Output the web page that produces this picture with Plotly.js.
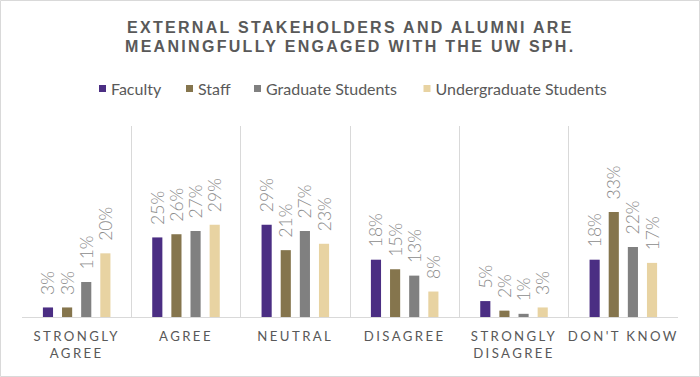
<!DOCTYPE html>
<html>
<head>
<meta charset="utf-8">
<script src="https://cdn.plot.ly/plotly-3.0.1.min.js"></script>
<style>
html,body{margin:0;padding:0;background:#fff;}
#chart{width:700px;height:377px;}
.xtick text{letter-spacing:2.4px;}
.annotation-text{letter-spacing:2.3px;}
</style>
</head>
<body>
<div id="chart"></div>
<script>
const categories = ["STRONGLY<br>AGREE", "AGREE", "NEUTRAL", "DISAGREE", "STRONGLY<br>DISAGREE", "DON'T KNOW"];
const seriesNames = ["Faculty", "Staff", "Graduate Students", "Undergraduate Students"];
const faculty = [0.03, 0.25, 0.29, 0.18, 0.05, 0.18];
const staff = [0.03, 0.26, 0.21, 0.15, 0.02, 0.33];
const graduate = [0.11, 0.27, 0.27, 0.13, 0.01, 0.22];
const undergraduate = [0.20, 0.29, 0.23, 0.08, 0.03, 0.17];
const colors = ["#4B2E83", "#85754D", "#808080", "#E8D3A2"];
const titleLines = ["EXTERNAL STAKEHOLDERS AND ALUMNI ARE", "MEANINGFULLY ENGAGED WITH THE UW SPH."];

const W = 700, H = 377;
const M = {l: 22, r: 22, t: 126, b: 60};
const plotH = H - M.t - M.b;
const legendNames = ['legend', 'legend2', 'legend3', 'legend4'];
const legendLeft = [82.5, 169.5, 237.5, 407];

const values = [faculty, staff, graduate, undergraduate];
const traces = values.map((v, i) => ({
  type: 'bar',
  name: seriesNames[i],
  legend: legendNames[i],
  x: categories,
  y: v,
  marker: {color: colors[i], line: {width: 0}},
  text: v.map(d => '\u00A0\u00A0' + Math.round(d * 100) + '%'),
  textposition: 'outside',
  textangle: -90,
  constraintext: 'none',
  cliponaxis: false,
  textfont: {family: 'Lato, sans-serif', size: 17.5, color: '#8c8c8c', weight: 300},
  hoverinfo: 'skip'
}));

const layout = {
  width: W, height: H,
  margin: M,
  paper_bgcolor: '#ffffff',
  plot_bgcolor: '#ffffff',
  barmode: 'group',
  bargap: 0.3,
  bargroupgap: 0.47,
  showlegend: true,
  xaxis: {
    type: 'category',
    tickson: 'boundaries',
    showgrid: true, gridcolor: '#d9d9d9', gridwidth: 1,
    showline: true, linecolor: '#d9d9d9', linewidth: 1,
    ticks: '', ticklen: 0,
    ticklabelstandoff: 7,
    tickfont: {family: 'Lato, sans-serif', size: 13.2, color: '#595959'},
    fixedrange: true
  },
  yaxis: {
    range: [0, 0.6], visible: false, showgrid: false, zeroline: false, fixedrange: true
  },
  annotations: titleLines.map((t, i) => ({
    text: '<b>' + t + '</b>',
    xref: 'paper', yref: 'paper',
    x: 0.5, xanchor: 'center',
    y: (H - M.b - (27 + i * 19)) / plotH, yanchor: 'middle',
    showarrow: false,
    font: {family: '"Liberation Sans", Arial, sans-serif', size: 16, color: '#595959'}
  })),
  shapes: [{
    type: 'rect', xref: 'paper', yref: 'paper',
    x0: (0.5 - M.l) / (W - M.l - M.r), x1: (W - 0.5 - M.l) / (W - M.l - M.r),
    y0: (M.b - 0.5) / -plotH, y1: (H - M.b - 0.5) / plotH,
    line: {color: '#d9d9d9', width: 1}, fillcolor: 'rgba(0,0,0,0)', layer: 'below'
  }]
};
legendNames.forEach((ln, i) => {
  layout[ln] = {
    orientation: 'h', xref: 'container', yref: 'container',
    x: legendLeft[i] / W, xanchor: 'left', y: 1 - 88.5 / H, yanchor: 'middle',
    font: {family: 'Lato, sans-serif', size: 16, color: '#595959'},
    itemwidth: 30, bgcolor: 'rgba(0,0,0,0)', borderwidth: 0
  };
});

const gd = document.getElementById('chart');
function compactLegends() {
  // smaller square swatch and text closer to it, as in the reference legend
  legendNames.forEach(ln => {
    gd.querySelectorAll('.' + ln + 'points path').forEach(p => {
      p.setAttribute('d', 'M-3.5,-3.5h7v7h-7Z');
      p.setAttribute('transform', 'translate(20,0)');
    });
    gd.querySelectorAll('.' + ln + 'text').forEach(t => t.setAttribute('x', 28.5));
  });
}
Plotly.newPlot(gd, traces, layout, {displayModeBar: false, staticPlot: true}).then(() => {
  compactLegends();
  gd.on('plotly_afterplot', compactLegends);
});
</script>
</body>
</html>
